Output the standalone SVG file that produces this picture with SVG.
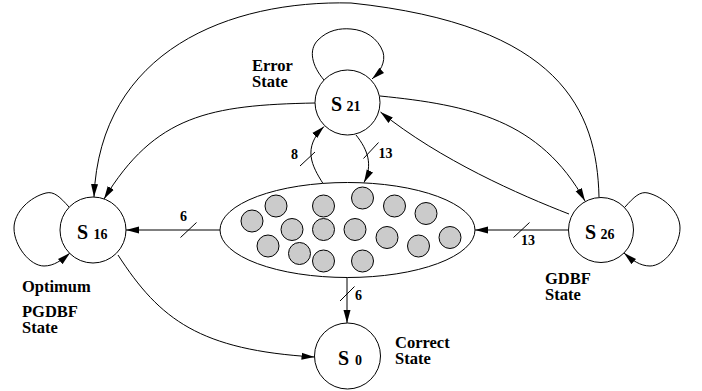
<svg xmlns="http://www.w3.org/2000/svg" width="702" height="391" viewBox="0 0 702 391">
<style>
  .node { fill: #ffffff; stroke: #000000; stroke-width: 1; }
  .dot { fill: #cbcbcb; stroke: #000000; stroke-width: 1; }
  .edge { fill: none; stroke: #000000; stroke-width: 1; marker-end: url(#arrow); }
  .tick { fill: none; stroke: #000000; stroke-width: 1; }
  text { font-family: "Liberation Serif", "Times New Roman", serif; font-weight: bold; fill: #000; }
  .big { font-size: 20px; }
  .sub { font-size: 14px; }
  .lab { font-size: 16.5px; }
  .num { font-size: 14px; }
</style>
<defs>
  <marker id="arrow" markerUnits="userSpaceOnUse" markerWidth="13" markerHeight="8" viewBox="0 0 13 8" refX="13" refY="4" orient="auto">
    <path d="M0,0.5 L13,4 L0,7.5 z" fill="#000"/>
  </marker>
</defs>
<rect width="702" height="391" fill="#ffffff"/>

<g id="connectors">
  <path class="edge" d="M69,207 C60,197 54,191 46,193 C30,197 14,212 14,228 C14,246 30,266 44,266 C54,266 62,260 70,253"/>
  <path class="edge" d="M625,207 C634,197 640,191 648,193 C664,197 680,212 680,228 C680,246 664,266 650,266 C640,266 632,260 624,253"/>
  <path class="edge" d="M324,80 C312,66 308,50 318,40 C328,30 340,28 351,29 C365,30 378,38 383,52 C386,62 380,72 372,79"/>
  <path class="edge" d="M599,197 C597,110 560,25 351,3 C230,0 100,50 94,197"/>
  <path class="edge" d="M315,103 C210,105 155,115 104,199"/>
  <path class="edge" d="M380,96 C470,105 540,120 585,201"/>
  <path class="edge" d="M569,214 C520,195 440,160 380.5,112"/>
  <path class="edge" d="M323,183.5 C312,166 302,148 324,126.5"/>
  <line class="tick" x1="300" y1="166" x2="315" y2="152"/>
  <path class="edge" d="M356,135 C368,150 373,165 364,182.5"/>
  <line class="tick" x1="363.5" y1="158.5" x2="378.5" y2="142.5"/>
  <path class="edge" d="M220,230 L126,230"/>
  <line class="tick" x1="180.5" y1="237.5" x2="196.5" y2="222.5"/>
  <path class="edge" d="M568,230 L475,230"/>
  <line class="tick" x1="513.5" y1="237.5" x2="529.5" y2="222.5"/>
  <path class="edge" d="M347,277 L347,323"/>
  <line class="tick" x1="340" y1="301" x2="354.5" y2="286.5"/>
  <path class="edge" d="M118,255 C160,320 200,350 314.5,357"/>
  <text class="num" x="291" y="159">8</text>
  <text class="num" x="378.5" y="158">13</text>
  <text class="num" x="180" y="221">6</text>
  <text class="num" x="521" y="245">13</text>
  <text class="num" x="355" y="300">6</text>
</g>

<g id="cluster">
  <ellipse class="node" cx="347.5" cy="230" rx="127.5" ry="47.5"/>
  <circle class="dot" cx="252" cy="221" r="11"/>
  <circle class="dot" cx="276" cy="206" r="11"/>
  <circle class="dot" cx="268" cy="246" r="11"/>
  <circle class="dot" cx="292" cy="229.5" r="11"/>
  <circle class="dot" cx="299.5" cy="253.5" r="11"/>
  <circle class="dot" cx="323.5" cy="206" r="11"/>
  <circle class="dot" cx="323.5" cy="229.5" r="11"/>
  <circle class="dot" cx="323.5" cy="261" r="11"/>
  <circle class="dot" cx="362.5" cy="198" r="11"/>
  <circle class="dot" cx="355" cy="229.5" r="11"/>
  <circle class="dot" cx="362.5" cy="261" r="11"/>
  <circle class="dot" cx="394.5" cy="206" r="11"/>
  <circle class="dot" cx="387" cy="237.5" r="11"/>
  <circle class="dot" cx="426" cy="213.5" r="11"/>
  <circle class="dot" cx="418.5" cy="246" r="11"/>
  <circle class="dot" cx="450" cy="237.5" r="11"/>
</g>

<g id="S16">
  <circle class="node" cx="93" cy="230" r="33"/>
  <text class="big" x="77" y="239">S</text>
  <text class="sub" x="93.5" y="239">16</text>
  <text class="lab" x="22" y="292">Optimum</text>
  <text class="lab" x="22" y="317">PGDBF</text>
  <text class="lab" x="22" y="332.5">State</text>
</g>

<g id="S21">
  <circle class="node" cx="347.5" cy="102.5" r="32.5"/>
  <text class="big" x="331" y="111">S</text>
  <text class="sub" x="346.5" y="111">21</text>
  <text class="lab" x="252" y="71">Error</text>
  <text class="lab" x="252" y="87">State</text>
</g>

<g id="S26">
  <circle class="node" cx="601" cy="230" r="32.5"/>
  <text class="big" x="585" y="238.5">S</text>
  <text class="sub" x="600.5" y="238.5">26</text>
  <text class="lab" x="545" y="284">GDBF</text>
  <text class="lab" x="545" y="300">State</text>
</g>

<g id="S0">
  <circle class="node" cx="347.5" cy="356" r="33"/>
  <text class="big" x="338" y="365">S</text>
  <text class="sub" x="355" y="365">0</text>
  <text class="lab" x="395" y="348">Correct</text>
  <text class="lab" x="395" y="364">State</text>
</g>
</svg>
